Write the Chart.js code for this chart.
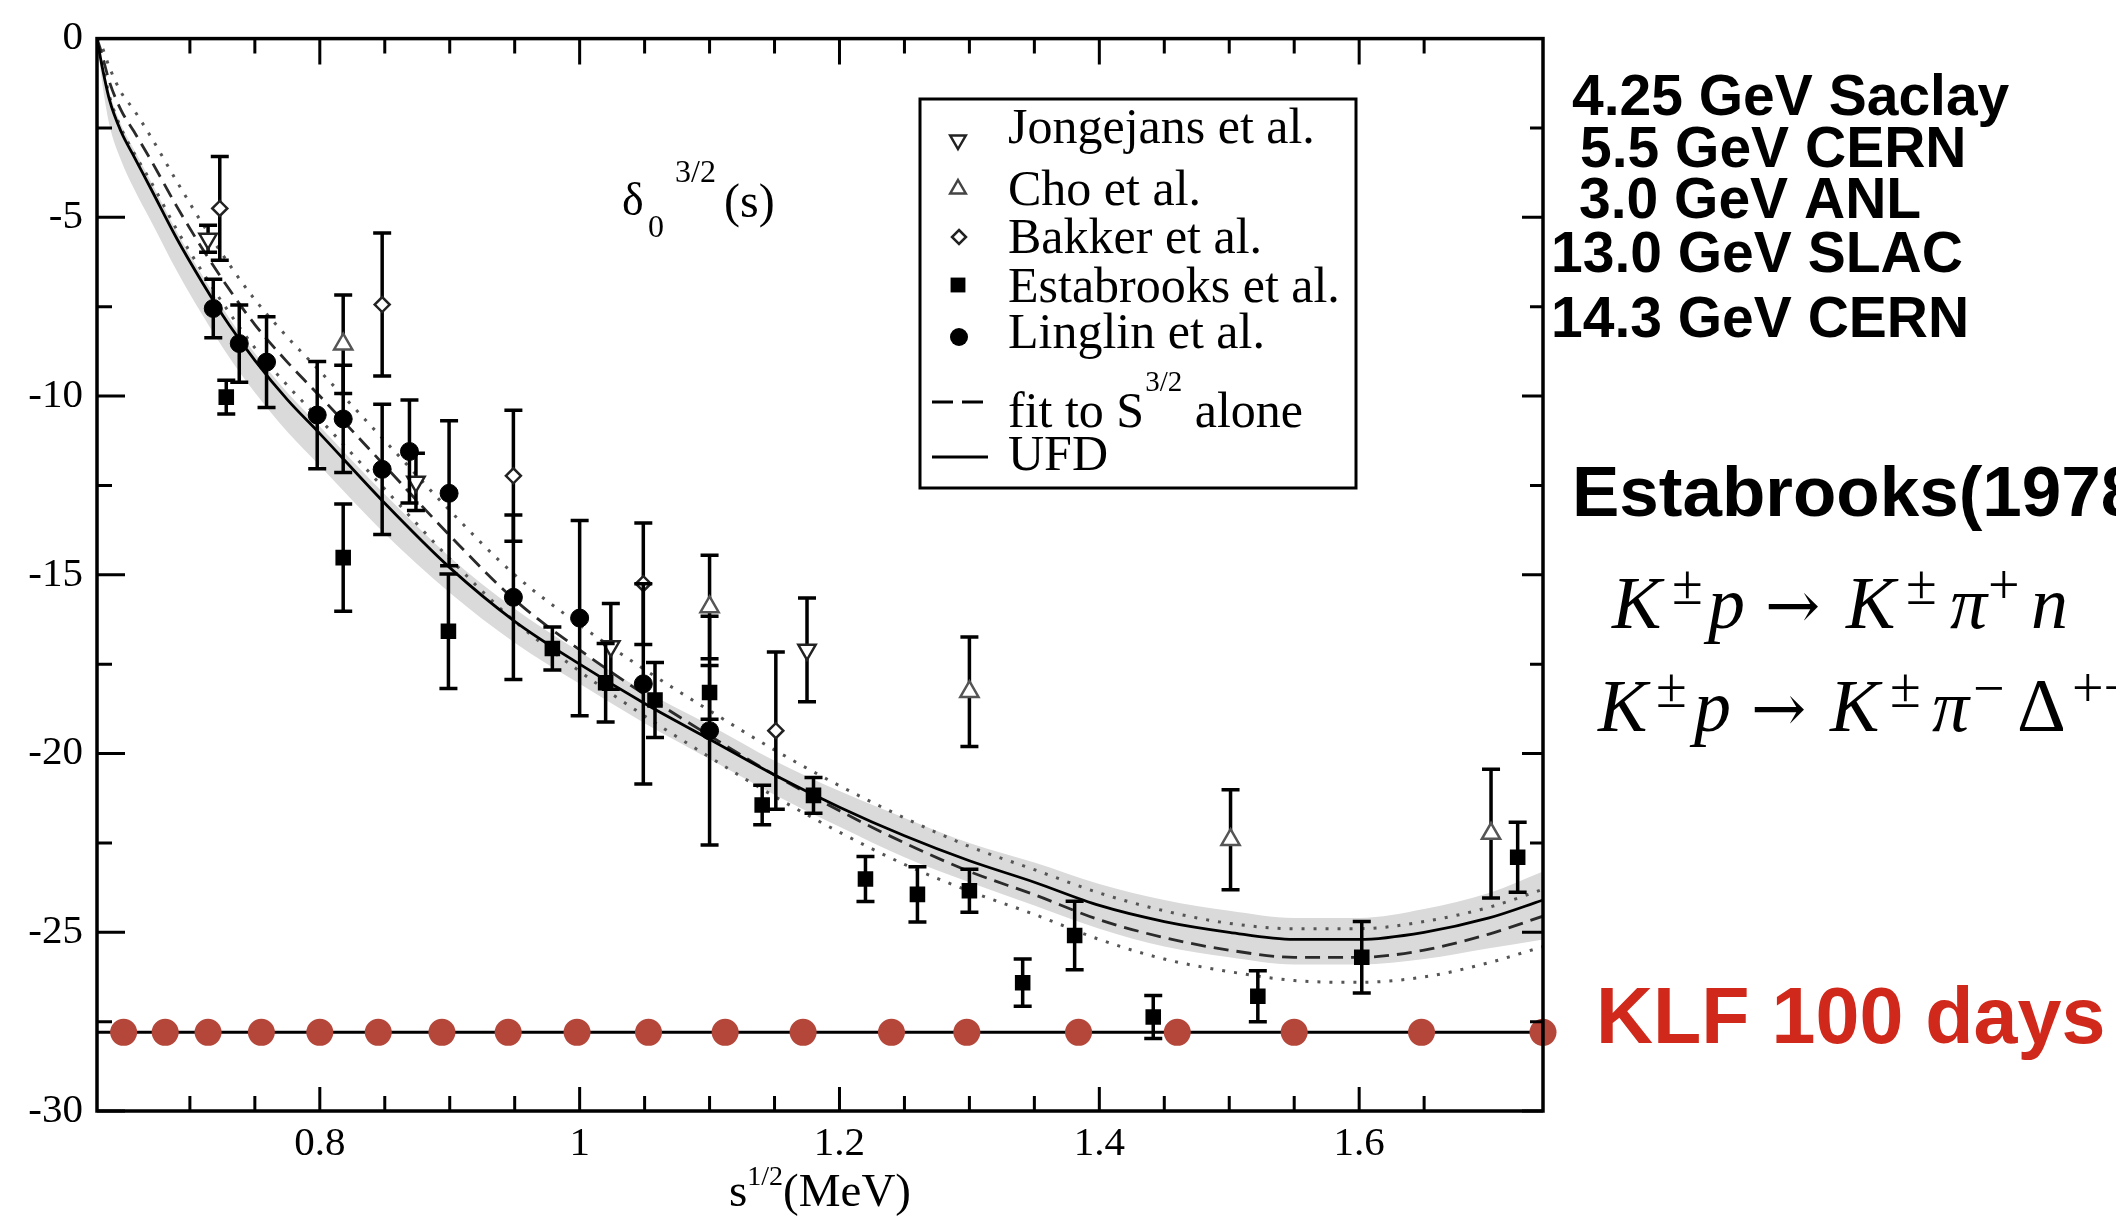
<!DOCTYPE html>
<html>
<head>
<meta charset="utf-8">
<title>delta 3/2 phase shift</title>
<script src="https://cdn.jsdelivr.net/npm/chart.js@4.4.0/dist/chart.umd.min.js"></script>
<style>
  html, body { margin: 0; padding: 0; background: #fff; }
  #wrap { width: 2116px; height: 1217px; position: relative; }
</style>
</head>
<body>
<div id="wrap"><canvas id="myChart" width="2116" height="1217"></canvas></div>
<script>
// axis ranges
const xMin = 0.6285, xMax = 1.7415;
const yMin = -30, yMax = 0;

// curves
const curveX  = [0.6285,0.632,0.638,0.647,0.657,0.67,0.69,0.71,0.73,0.75,0.775,0.80,0.85,0.90,0.95,1.00,1.05,1.10,1.15,1.20,1.25,1.30,1.35,1.40,1.45,1.50,1.55,1.60,1.65,1.70,1.7415];
const ufd     = [0,-0.7,-1.7,-2.6,-3.3,-4.2,-5.6,-6.85,-8.0,-9.0,-10.1,-11.05,-13.0,-14.8,-16.3,-17.5,-18.6,-19.6,-20.6,-21.5,-22.3,-23.0,-23.6,-24.25,-24.7,-25.0,-25.2,-25.2,-25.0,-24.6,-24.1];
const ufdHi   = [0,-0.6,-1.5,-2.4,-3.1,-4.0,-5.4,-6.65,-7.8,-8.8,-9.9,-10.85,-12.75,-14.5,-15.95,-17.15,-18.25,-19.2,-20.2,-21.05,-21.8,-22.5,-23.05,-23.65,-24.1,-24.4,-24.6,-24.6,-24.35,-23.9,-23.3];
const ufdLo   = [0,-1.1,-2.4,-3.4,-4.2,-5.1,-6.5,-7.75,-8.9,-9.9,-11.0,-11.95,-13.85,-15.5,-16.9,-18.05,-19.15,-20.15,-21.15,-22.05,-22.9,-23.6,-24.25,-24.9,-25.4,-25.7,-25.9,-25.9,-25.75,-25.45,-25.2];
const fitS32  = [0,-0.4,-1.2,-2.0,-2.6,-3.4,-4.7,-5.9,-7.0,-8.0,-9.05,-10.0,-11.95,-13.9,-15.7,-17.1,-18.35,-19.5,-20.6,-21.6,-22.5,-23.3,-23.95,-24.65,-25.15,-25.5,-25.7,-25.7,-25.5,-25.05,-24.55];
const fitHi   = [0,-0.2,-0.8,-1.5,-2.0,-2.75,-4.0,-5.2,-6.3,-7.3,-8.35,-9.3,-11.25,-13.2,-15.0,-16.4,-17.65,-18.8,-19.9,-20.9,-21.8,-22.6,-23.25,-23.9,-24.4,-24.75,-24.9,-24.9,-24.7,-24.3,-23.8];
const fitLo   = [0,-0.6,-1.6,-2.5,-3.2,-4.0,-5.35,-6.55,-7.65,-8.65,-9.7,-10.65,-12.6,-14.55,-16.3,-17.7,-18.95,-20.1,-21.2,-22.2,-23.1,-23.85,-24.5,-25.2,-25.75,-26.1,-26.35,-26.4,-26.25,-25.85,-25.4];

// experiments: x, y, error
const jongX = [0.714, 0.874, 1.024, 1.175];
const jongY = [-5.6, -12.4, -17.0, -17.1];
const jongE = [0.38, 0.8, 1.2, 1.45];

const choX = [0.818, 1.100, 1.300, 1.501, 1.7015];
const choY = [-8.55, -15.9, -18.27, -22.41, -22.24];
const choE = [1.38, 1.45, 1.53, 1.4, 1.8];

const bakX = [0.723, 0.848, 0.949, 1.049, 1.151];
const bakY = [-4.75, -7.44, -12.23, -15.25, -19.36];
const bakE = [1.45, 2.0, 1.83, 1.7, 2.2];

const estX = [0.728, 0.818, 0.899, 0.979, 1.020, 1.058, 1.100, 1.1405, 1.180, 1.220, 1.260, 1.300, 1.341, 1.381, 1.4415, 1.522, 1.602, 1.722];
const estY = [-10.03, -14.52, -16.58, -17.06, -18.02, -18.5, -18.29, -21.44, -21.17, -23.51, -23.94, -23.84, -26.41, -25.09, -27.37, -26.79, -25.7, -22.9];
const estE = [0.47, 1.5, 1.6, 0.6, 1.1, 1.05, 0.75, 0.55, 0.5, 0.63, 0.77, 0.6, 0.66, 0.96, 0.6, 0.71, 1.0, 0.98];

const linX = [0.718, 0.738, 0.759, 0.798, 0.818, 0.848, 0.869, 0.8995, 0.949, 1.000, 1.049, 1.100];
const linY = [-7.55, -8.53, -9.05, -10.53, -10.64, -12.05, -11.55, -12.72, -15.63, -16.21, -18.05, -19.36];
const linE = [0.82, 1.08, 1.27, 1.5, 1.5, 1.82, 1.44, 2.03, 2.3, 2.73, 2.8, 3.2];

// projected KLF points
const klfX = [0.649,0.681,0.714,0.755,0.800,0.845,0.894,0.945,0.998,1.053,1.112,1.172,1.240,1.298,1.384,1.460,1.550,1.648,1.7415];
const klfY = -27.8;

const SERIF = "'Liberation Serif', 'Times New Roman', serif";
const SANS = "'Liberation Sans', Arial, sans-serif";

function pts(xs, ys) { return xs.map((x, i) => ({x: x, y: ys[i]})); }
function isMult(v, step) { const k = v / step; return Math.abs(k - Math.round(k)) < 1e-6; }

function drawMark(ctx, style, x, y, r, fill, stroke, lw, down) {
    ctx.save();
    ctx.beginPath();
    if (style === 'circle') {
        ctx.arc(x, y, r, 0, Math.PI * 2);
    } else if (style === 'rect') {
        const s = r * Math.SQRT1_2;
        ctx.rect(x - s, y - s, 2 * s, 2 * s);
    } else if (style === 'rectRot') {
        ctx.moveTo(x, y - r); ctx.lineTo(x + r, y); ctx.lineTo(x, y + r); ctx.lineTo(x - r, y);
        ctx.closePath();
    } else {
        const d = down ? -1 : 1;
        ctx.moveTo(x, y - d * r);
        ctx.lineTo(x + 0.866 * r, y + d * 0.5 * r);
        ctx.lineTo(x - 0.866 * r, y + d * 0.5 * r);
        ctx.closePath();
    }
    ctx.fillStyle = fill;
    ctx.fill();
    if (lw) { ctx.lineWidth = lw; ctx.strokeStyle = stroke; ctx.stroke(); }
    ctx.restore();
}

function drawRuns(ctx, runs, x, base, gap) {
    runs.forEach(r => {
        ctx.font = r.f;
        ctx.fillText(r.t, x, base - (r.dy || 0));
        x += ctx.measureText(r.t).width + (r.g !== undefined ? r.g : (gap || 0));
    });
    return x;
}

// pieces placed at their own left edge
function drawPlaced(ctx, pieces, base) {
    pieces.forEach(p => {
        ctx.font = p.f;
        ctx.fillText(p.t, p.x, base - (p.dy || 0));
    });
}

// error bars drawn right before each marker set
const errorBars = {
    id: 'errorBars',
    beforeDatasetDraw(chart, args) {
        const ds = chart.data.datasets[args.index];
        if (!ds.errs) return;
        const xs = chart.scales.x, ys = chart.scales.y, ctx = chart.ctx;
        ctx.save();
        ctx.strokeStyle = '#000';
        ctx.lineWidth = 3.5;
        ctx.beginPath();
        ds.data.forEach((p, i) => {
            const px = xs.getPixelForValue(p.x);
            const y1 = ys.getPixelForValue(p.y + ds.errs[i]);
            const y2 = ys.getPixelForValue(p.y - ds.errs[i]);
            ctx.moveTo(px, y1); ctx.lineTo(px, y2);
            ctx.moveTo(px - 9, y1); ctx.lineTo(px + 9, y1);
            ctx.moveTo(px - 9, y2); ctx.lineTo(px + 9, y2);
        });
        ctx.stroke();
        ctx.restore();
    }
};

// frame, inward ticks, legend and all the labels
const decorations = {
    id: 'decorations',
    afterDraw(chart) {
        const ctx = chart.ctx, a = chart.chartArea;
        const xs = chart.scales.x, ys = chart.scales.y;
        ctx.save();
        ctx.strokeStyle = '#000';
        ctx.lineWidth = 3.5;
        ctx.strokeRect(a.left, a.top, a.right - a.left, a.bottom - a.top);

        ctx.lineWidth = 3;
        ctx.beginPath();
        xs.ticks.forEach(t => {
            if (!isMult(t.value, 0.05)) return;
            const major = isMult(t.value, 0.2);
            const px = xs.getPixelForValue(t.value);
            ctx.moveTo(px, a.bottom); ctx.lineTo(px, a.bottom - (major ? 24 : 15));
            ctx.moveTo(px, a.top); ctx.lineTo(px, a.top + (major ? 26 : 15));
        });
        ys.ticks.forEach(t => {
            const major = isMult(t.value, 5);
            const py = ys.getPixelForValue(t.value);
            ctx.moveTo(a.left, py); ctx.lineTo(a.left + (major ? 28 : 15), py);
            ctx.moveTo(a.right, py); ctx.lineTo(a.right - (major ? 21 : 13), py);
        });
        ctx.stroke();

        // legend box
        ctx.fillStyle = '#fff';
        ctx.fillRect(920, 99, 436, 389);
        ctx.lineWidth = 3;
        ctx.strokeRect(920, 99, 436, 389);
        drawMark(ctx, 'triangle', 958, 140, 9, '#fff', '#222', 2.5, true);
        drawMark(ctx, 'triangle', 958, 189, 9, '#fff', '#444', 2.5, false);
        drawMark(ctx, 'rectRot', 959, 237, 7, '#fff', '#222', 2.5);
        drawMark(ctx, 'rect', 958, 285, 10.5, '#000');
        drawMark(ctx, 'circle', 959, 337, 9, '#000');
        ctx.lineWidth = 3;
        ctx.strokeStyle = '#000';
        ctx.setLineDash([21, 9]);
        ctx.beginPath(); ctx.moveTo(932, 402); ctx.lineTo(984, 402); ctx.stroke();
        ctx.setLineDash([]);
        ctx.beginPath(); ctx.moveTo(932, 457); ctx.lineTo(988, 457); ctx.stroke();

        ctx.fillStyle = '#000';
        ctx.textBaseline = 'alphabetic';
        ctx.textAlign = 'left';
        const lf = '50px ' + SERIF;
        ctx.font = lf;
        ctx.fillText('Jongejans et al.', 1008, 143);
        ctx.fillText('Cho et al.', 1008, 205);
        ctx.fillText('Bakker et al.', 1008, 253);
        ctx.fillText('Estabrooks et al.', 1008, 302);
        ctx.fillText('Linglin et al.', 1008, 348);
        drawRuns(ctx, [
            {t: 'fit to S', f: lf, g: 1},
            {t: '3/2', f: '29px ' + SERIF, dy: 36, g: 0},
            {t: ' alone', f: lf}
        ], 1008, 427);
        ctx.font = lf;
        ctx.fillText('UFD', 1008, 470);

        // curve label inside the plot
        ctx.font = '46px ' + SERIF;
        ctx.fillText('\u03b4', 622, 215);
        ctx.font = '32px ' + SERIF;
        ctx.fillText('0', 648, 237);
        ctx.fillText('3/2', 675, 182);
        ctx.font = '48px ' + SERIF;
        ctx.fillText('(s)', 724, 217);

        // x axis title
        const tf = '47px ' + SERIF, sf = '28px ' + SERIF;
        ctx.font = tf;
        let w = ctx.measureText('s').width + ctx.measureText('(MeV)').width;
        ctx.font = sf;
        w += ctx.measureText('1/2').width;
        drawRuns(ctx, [
            {t: 's', f: tf},
            {t: '1/2', f: sf, dy: 21},
            {t: '(MeV)', f: tf}
        ], (a.left + a.right) / 2 - w / 2, 1206);

        // notes on the right
        ctx.font = 'bold 57px ' + SANS;
        ctx.fillText('4.25 GeV Saclay', 1572, 115);
        ctx.fillText('5.5 GeV CERN', 1580, 167);
        ctx.fillText('3.0 GeV ANL', 1579, 218);
        ctx.fillText('13.0 GeV SLAC', 1551, 272);
        ctx.fillText('14.3 GeV CERN', 1551, 337);
        ctx.font = 'bold 71px ' + SANS;
        ctx.fillText('Estabrooks(1978)', 1572, 516);

        const it = 'italic 74px ' + SERIF, arr = '66px "DejaVu Serif", serif', up = '76px ' + SERIF, sup = '56px ' + SERIF;
        drawPlaced(ctx, [
            {t: 'K', f: it, x: 1612}, {t: '\u00b1', f: sup, dy: 24, x: 1672}, {t: 'p', f: it, x: 1708},
            {t: '\u2192', f: arr, x: 1765},
            {t: 'K', f: it, x: 1846}, {t: '\u00b1', f: sup, dy: 24, x: 1906}, {t: '\u03c0', f: it, x: 1950},
            {t: '+', f: sup, dy: 24, x: 1988}, {t: 'n', f: it, x: 2031}
        ], 628);
        drawPlaced(ctx, [
            {t: 'K', f: it, x: 1598}, {t: '\u00b1', f: sup, dy: 24, x: 1656}, {t: 'p', f: it, x: 1694},
            {t: '\u2192', f: arr, x: 1751},
            {t: 'K', f: it, x: 1830}, {t: '\u00b1', f: sup, dy: 24, x: 1890}, {t: '\u03c0', f: it, x: 1932},
            {t: '\u2212', f: sup, dy: 24, x: 1973}, {t: '\u0394', f: up, x: 2017}, {t: '++', f: sup, dy: 24, x: 2072}
        ], 731);

        ctx.fillStyle = '#d0291b';
        ctx.font = 'bold 79px ' + SANS;
        ctx.fillText('KLF 100 days', 1596, 1043);
        ctx.restore();
    }
};

const lineDefaults = {showLine: true, pointRadius: 0, cubicInterpolationMode: 'monotone', fill: false};

const datasets = [
    {label: 'KLF 100 days', data: klfX.map(x => ({x: x, y: klfY})), showLine: false,
     pointStyle: 'circle', pointRadius: 13.5, pointBackgroundColor: '#b4463a', pointBorderWidth: 0, clip: false},
    {label: 'Linglin et al.', data: pts(linX, linY), errs: linE, showLine: false,
     pointStyle: 'circle', pointRadius: 9, pointBackgroundColor: '#000', pointBorderColor: '#000', pointBorderWidth: 1},
    {label: 'Estabrooks et al.', data: pts(estX, estY), errs: estE, showLine: false,
     pointStyle: 'rect', pointRadius: 11, pointBackgroundColor: '#000', pointBorderColor: '#000', pointBorderWidth: 0},
    {label: 'Bakker et al.', data: pts(bakX, bakY), errs: bakE, showLine: false,
     pointStyle: 'rectRot', pointRadius: 7.5, pointBackgroundColor: '#fff', pointBorderColor: '#222', pointBorderWidth: 2.5},
    {label: 'Cho et al.', data: pts(choX, choY), errs: choE, showLine: false,
     pointStyle: 'triangle', pointRadius: 10.5, pointBackgroundColor: '#fff', pointBorderColor: '#555', pointBorderWidth: 2.5},
    {label: 'Jongejans et al.', data: pts(jongX, jongY), errs: jongE, showLine: false,
     pointStyle: 'triangle', pointRotation: 180, pointRadius: 10, pointBackgroundColor: '#fff', pointBorderColor: '#222', pointBorderWidth: 2.5},
    Object.assign({}, lineDefaults, {label: 'KLF line', data: [{x: xMin, y: klfY}, {x: xMax, y: klfY}],
     borderColor: '#000', borderWidth: 3, cubicInterpolationMode: 'default'}),
    Object.assign({}, lineDefaults, {label: 'UFD', data: pts(curveX, ufd), borderColor: '#000', borderWidth: 2.8}),
    Object.assign({}, lineDefaults, {label: 'fit to S3/2 alone', data: pts(curveX, fitS32),
     borderColor: '#2a2a2a', borderWidth: 2.8, borderDash: [15, 8]}),
    Object.assign({}, lineDefaults, {label: 'fit upper', data: pts(curveX, fitHi),
     borderColor: '#555', borderWidth: 3, borderDash: [3, 9]}),
    Object.assign({}, lineDefaults, {label: 'fit lower', data: pts(curveX, fitLo),
     borderColor: '#555', borderWidth: 3, borderDash: [3, 9]}),
    Object.assign({}, lineDefaults, {label: 'UFD band', data: pts(curveX, ufdHi), fill: '+1',
     backgroundColor: '#dadada', borderColor: 'rgba(0,0,0,0)', borderWidth: 0}),
    Object.assign({}, lineDefaults, {label: 'UFD band low', data: pts(curveX, ufdLo),
     borderColor: 'rgba(0,0,0,0)', borderWidth: 0})
];

const chartInstance = new Chart(document.getElementById('myChart'), {
    type: 'line',
    data: {datasets: datasets},
    plugins: [errorBars, decorations],
    options: {
        responsive: false,
        animation: false,
        devicePixelRatio: 1,
        events: [],
        layout: {padding: {left: 0, right: 2116 - 1543, top: 34, bottom: 0}},
        plugins: {legend: {display: false}, tooltip: {enabled: false}},
        scales: {
            x: {
                type: 'linear', min: xMin, max: xMax,
                grid: {display: false, drawTicks: false},
                border: {display: false},
                ticks: {
                    stepSize: 0.05, maxTicksLimit: 100, autoSkip: false, maxRotation: 0,
                    padding: 9, color: '#000', font: {family: SERIF, size: 41},
                    callback: v => isMult(v, 0.2) ? String(Math.round(v * 10) / 10) : ''
                },
                afterFit: s => { s.height = 1217 - 1111; }
            },
            y: {
                type: 'linear', min: yMin, max: yMax,
                grid: {display: false, drawTicks: false},
                border: {display: false},
                ticks: {
                    stepSize: 2.5, autoSkip: false, padding: 14, color: '#000',
                    font: {family: SERIF, size: 41},
                    callback: v => isMult(v, 5) ? String(Math.round(v)) : ''
                },
                afterFit: s => { s.width = 97; }
            }
        }
    }
});
</script>
</body>
</html>
